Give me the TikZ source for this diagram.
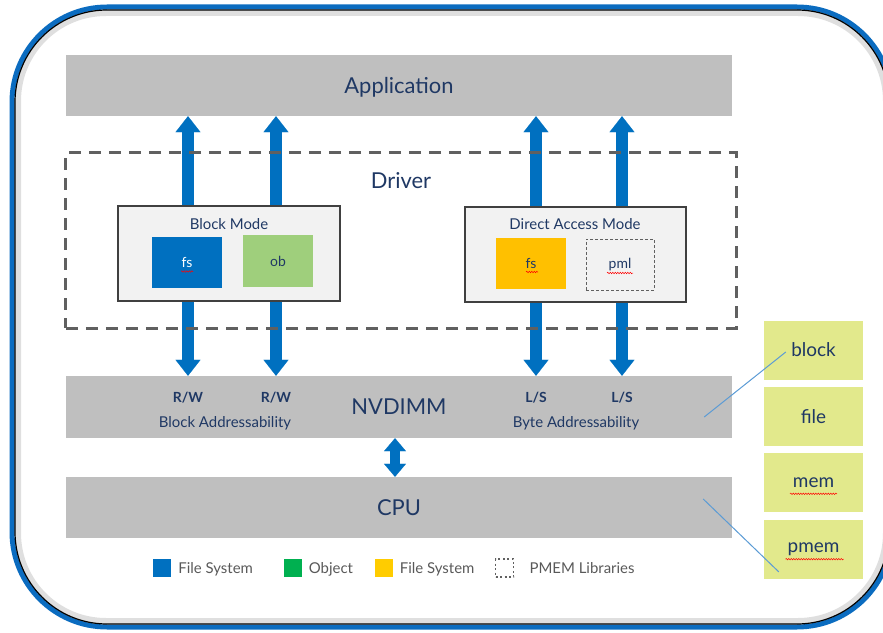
\documentclass[tikz,border=0pt]{standalone}
\usepackage{fontspec}
\setmainfont{Lato}
\usetikzlibrary{positioning, arrows.meta, decorations.pathmorphing, backgrounds}
\definecolor{navy}{HTML}{1F3864}
\definecolor{barc}{HTML}{BFBFBF}
\definecolor{boxfill}{HTML}{F2F2F2}
\definecolor{boxdraw}{HTML}{404040}
\definecolor{dashc}{HTML}{606060}
\definecolor{arrc}{HTML}{0070C0}
\definecolor{obc}{HTML}{9FCF7C}
\definecolor{yelc}{HTML}{FFC000}
\definecolor{grnc}{HTML}{00B050}
\definecolor{ylc}{HTML}{FFCC00}
\definecolor{limec}{HTML}{E2E98C}
\definecolor{framec}{HTML}{0B6CC0}
\definecolor{framed}{HTML}{0A3F72}
\definecolor{legc}{HTML}{595959}
\definecolor{linec}{HTML}{5B9BD5}

\begin{document}
\begin{tikzpicture}[x=1bp, y=-1bp,
	every node/.style={text=navy, font=\fontsize{15}{18}\selectfont},
	bar/.style={fill=barc, minimum width=666bp, minimum height=61bp, text depth=0pt, font=\fontsize{22}{26}\selectfont},
	mode/.style={draw=boxdraw, line width=2.5bp, fill=boxfill, minimum width=222bp, minimum height=95bp},
	inbox/.style={minimum width=70bp, minimum height=51bp, font=\fontsize{14}{17}\selectfont},
	rbox/.style={fill=limec, minimum width=99bp, minimum height=59bp, font=\fontsize{19}{22}\selectfont},
	sq/.style={minimum width=18bp, minimum height=18bp, inner sep=0pt},
	legtext/.style={text=legc, font=\fontsize{15}{18}\selectfont, inner sep=0pt, text depth=0pt},
	rw/.style={font=\fontsize{14}{17}\selectfont\bfseries},
	pipe/.style={arrc, line width=12bp, -{Triangle[length=16bp, width=25bp, line width=0.1bp]}},
	spell/.style={red, line width=0.5bp, decorate, decoration={snake, amplitude=0.7bp, segment length=2.5bp}},
	callout/.style={linec, line width=1bp}]
	\useasboundingbox (0,0) rectangle (883,633);

	% outer frame with a soft shadow
	\draw[gray!25, line width=6bp, rounded corners=88bp] (18,13) rectangle (886,621);
	\draw[framec, line width=5bp, rounded corners=95bp] (12,7) rectangle (892,627);
	\draw[framed, line width=1.2bp, rounded corners=92bp] (15,10) rectangle (889,624);

	% layers
	\node[bar] (app) at (399,85.5) {Application};
	\node[bar, minimum height=62bp] (nvd) at (399,407) {NVDIMM};
	\node[bar] (cpu) at (399,507.5) {CPU};

	\node[draw=dashc, line width=3bp, dash pattern=on 12bp off 8bp, minimum width=670bp, minimum height=175bp] (drv) at (401,240.5) {};
	\node[font=\fontsize{22}{26}\selectfont] (drvt) at (401,181) {Driver};

	\node[mode] (blk) at (229,253.5) {};
	\node (blkt) at (229,224) {Block Mode};
	\node[inbox, fill=arrc, text=white] (fsb) at (187,262.5) {fs};
	\node[inbox, fill=obc] (obb) at (278,261) {ob};

	\node[mode, minimum width=221bp] (dax) at (575.5,254.5) {};
	\node (daxt) at (575,224) {Direct Access Mode};
	\node[inbox, fill=yelc] (fsd) at (531,263.5) {fs};
	\node[inbox, minimum width=68bp, draw=dashc, line width=0.8bp, dash pattern=on 3bp off 2bp] (pml) at (620,264.5) {pml};

	\coordinate (c1) at (188,0);
	\coordinate (c2) at (276,0);
	\coordinate (c3) at (536,0);
	\coordinate (c4) at (622,0);
	\coordinate (c5) at (395,0);
	\begin{pgfonlayer}{background}
	\foreach \c/\m in {c1/blk, c2/blk, c3/dax, c4/dax} {
		\draw[pipe] (\c |- \m.north) -- (\c |- app.south);
		\draw[pipe] (\c |- \m.south) -- (\c |- nvd.north);
	}
	\draw[arrc, line width=10bp, {Triangle[length=13bp, width=22bp, line width=0.1bp]}-{Triangle[length=13bp, width=22bp, line width=0.1bp]}] (c5 |- nvd.south) -- (c5 |- cpu.north);
	\end{pgfonlayer}

	\node[rw] (rw1) at (188,398) {R/W};
	\node[rw] (rw2) at (276,398) {R/W};
	\node[rw] (ls1) at (536,398) {L/S};
	\node[rw] (ls2) at (622,398) {L/S};
	\node (bla) at (225,423) {Block Addressability};
	\node (bya) at (576,423) {Byte Addressability};

	% right column
	\node[rbox] (rbk) at (813.5,350) {block};
	\node[rbox, below=7bp of rbk] (rfl) {file};
	\node[rbox, below=7bp of rfl] (rmm) {mem};
	\node[rbox, below=7bp of rmm] (rpm) {pmem};
	\draw[callout] ([xshift=-28bp, yshift=-10bp]nvd.east) -- ([xshift=22bp, yshift=-2bp]rbk.west);
	\draw[callout] ([xshift=-29bp, yshift=8.5bp]cpu.east) -- ([xshift=15bp, yshift=7bp]rpm.south west);

	% spelling marks
	\draw[spell] ([xshift=-6bp, yshift=-9bp]fsb.center) -- ([xshift=6bp, yshift=-9bp]fsb.center);
	\draw[spell] ([xshift=-5bp, yshift=-8.5bp]fsd.center) -- ([xshift=7bp, yshift=-8.5bp]fsd.center);
	\draw[spell] ([xshift=-13bp, yshift=-8.5bp]pml.center) -- ([xshift=13bp, yshift=-8.5bp]pml.center);
	\draw[spell] ([xshift=-23.5bp, yshift=-11bp]rmm.center) -- ([xshift=23.5bp, yshift=-11bp]rmm.center);
	\draw[spell] ([xshift=-28bp, yshift=-10bp]rpm.center) -- ([xshift=30bp, yshift=-10bp]rpm.center);

	% legend
	\node[sq, fill=arrc] (lg1) at (162,568) {};
	\node[legtext, right=7bp of lg1] (lt1) {File System};
	\node[sq, fill=grnc] (lg2) at (292.5,568) {};
	\node[legtext, right=7bp of lg2] (lt2) {Object};
	\node[sq, fill=ylc] (lg3) at (383.5,568) {};
	\node[legtext, right=7bp of lg3] (lt3) {File System};
	\node[sq, draw=dashc, line width=1.8bp, dash pattern=on 2bp off 2.5bp] (lg4) at (504.5,568) {};
	\node[legtext, right=15bp of lg4] (lt4) {PMEM Libraries};
\end{tikzpicture}
\end{document}
